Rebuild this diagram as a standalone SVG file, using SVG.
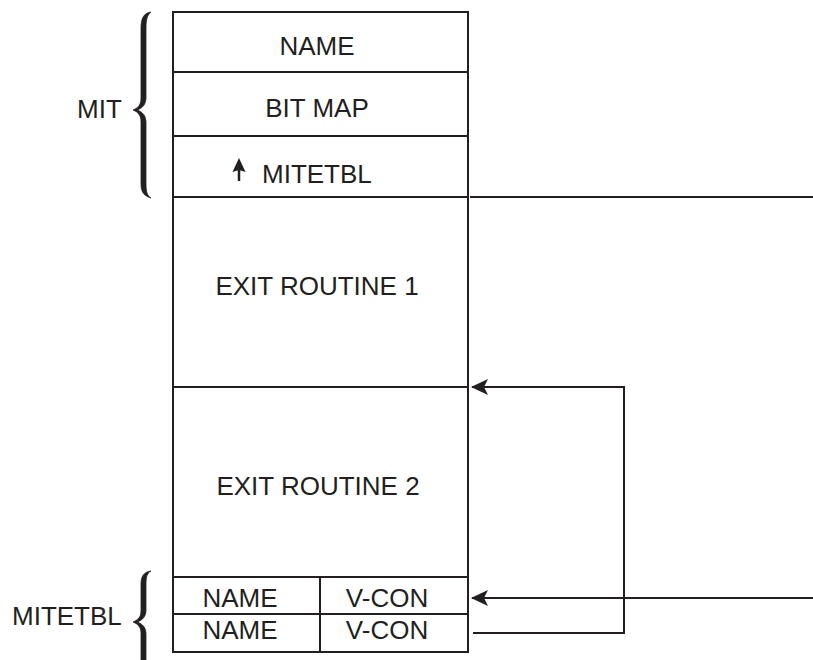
<svg xmlns="http://www.w3.org/2000/svg" width="813" height="660" viewBox="0 0 813 660">
  <style>
    .cell { fill: none; stroke: #231f20; stroke-width: 2; }
    .t { font-family: "Liberation Sans", Arial, sans-serif; font-size: 26px; fill: #231f20; }
    .c { text-anchor: middle; }
    .brace { fill: #231f20; stroke: #231f20; stroke-width: 0.8; stroke-linejoin: round; }
    .conn { fill: none; stroke: #231f20; stroke-width: 2; }
  </style>
  <defs>
    <marker id="arr" viewBox="0 0 17 16" refX="16" refY="8" markerWidth="17" markerHeight="16" markerUnits="userSpaceOnUse" orient="auto">
      <path d="M0,0 L17,8 L0,16 L4,8 Z" fill="#231f20"/>
    </marker>
  </defs>
  <rect width="813" height="660" fill="#ffffff"/>

  <g id="brace-mit">
    <path class="brace" d="M151,12 C144,13 141,18 141,28 L141,98 C141,105 138,108 133,110 C138,112 141,115 141,122 L141,184 C141,192 144,196 151,198 C147,196 146,191 146,184 L146,123 C146,116 143,112 137,110 C143,108 146,104 146,97 L146,28 C146,20 147,15 151,12 Z"/>
    <text class="t" x="77" y="118">MIT</text>
  </g>
  <g id="brace-mitetbl">
    <path class="brace" d="M151,571 C144,572 141,576 141,584 L141,611 C141,617 138,620 133,622 C138,624 141,627 141,633 L141,660 C141,668 144,672 151,673 C147,672 146,667 146,660 L146,634 C146,628 143,624 137,622 C143,620 146,616 146,610 L146,584 C146,577 147,573 151,571 Z"/>
    <text class="t" x="12" y="625">MITETBL</text>
  </g>

  <g id="node-name">
    <rect class="cell" x="173" y="12" width="295" height="60"/>
    <text class="t c" x="317" y="55">NAME</text>
  </g>
  <g id="node-bitmap">
    <rect class="cell" x="173" y="72" width="295" height="64"/>
    <text class="t c" x="317" y="117">BIT MAP</text>
  </g>
  <g id="node-mitetbl-ptr">
    <rect class="cell" x="173" y="136" width="295" height="61"/>
    <line x1="239" y1="181" x2="239" y2="168" stroke="#231f20" stroke-width="2.5"/>
    <path d="M239,158 L245.5,172 L239,170 L232.5,172 Z" fill="#231f20"/>
    <text class="t" x="262" y="183">MITETBL</text>
  </g>
  <g id="node-exit1">
    <rect class="cell" x="173" y="197" width="295" height="190"/>
    <text class="t c" x="317" y="295">EXIT ROUTINE 1</text>
  </g>
  <g id="node-exit2">
    <rect class="cell" x="173" y="387" width="295" height="190"/>
    <text class="t c" x="318" y="495">EXIT ROUTINE 2</text>
  </g>
  <g id="node-row1">
    <rect class="cell" x="173" y="577" width="147" height="37"/>
    <rect class="cell" x="320" y="577" width="148" height="37"/>
    <text class="t c" x="240" y="607">NAME</text>
    <text class="t c" x="387" y="607">V-CON</text>
  </g>
  <g id="node-row2">
    <rect class="cell" x="173" y="614" width="147" height="38"/>
    <rect class="cell" x="320" y="614" width="148" height="38"/>
    <text class="t c" x="240" y="639">NAME</text>
    <text class="t c" x="387" y="639">V-CON</text>
  </g>

  <g id="connectors">
    <line class="conn" x1="470" y1="197" x2="813" y2="197"/>
    <path class="conn" d="M473,633 H624 V387 H472" marker-end="url(#arr)"/>
    <path class="conn" d="M813,598 H472" marker-end="url(#arr)"/>
  </g>
</svg>
